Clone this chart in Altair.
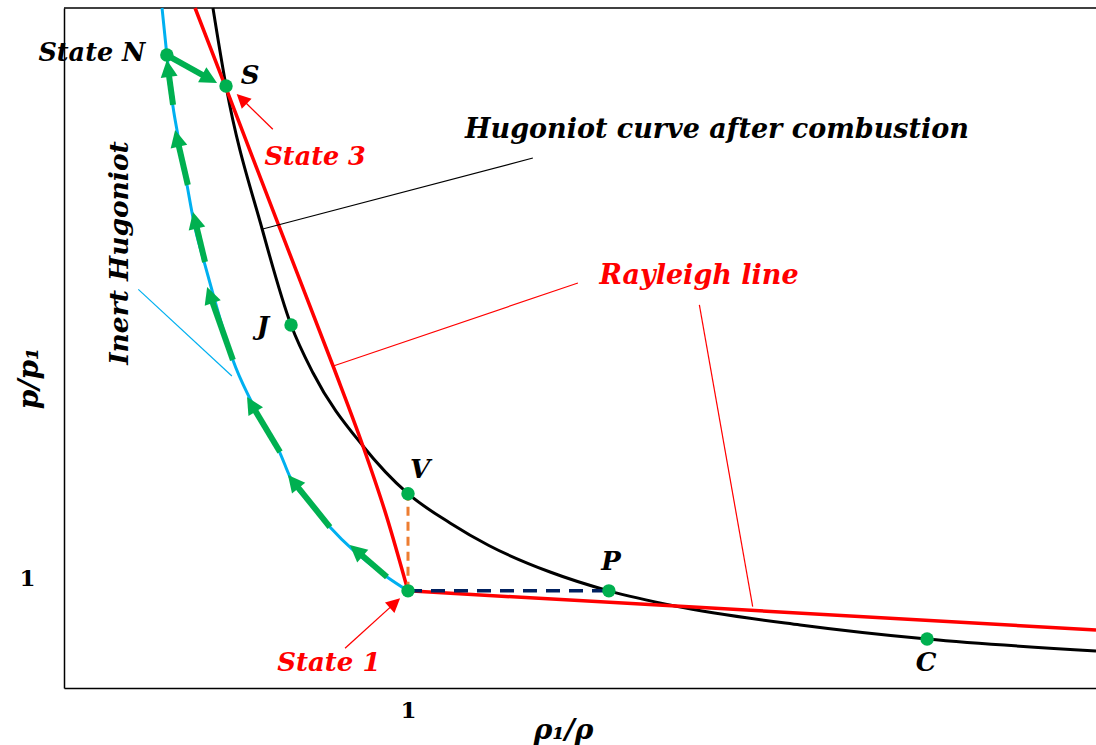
import math
import altair as alt
import pandas as pd

# ---------------- data (rho1/rho , p/p1) ----------------
# Hugoniot curve after combustion
hug_x = [0.433, 0.471, 0.576, 0.660, 0.724, 0.869, 1.000, 1.122, 1.235, 1.413, 1.584, 1.776,
         2.140, 2.509, 3.0]
hug_y = [7.0, 6.197, 4.725, 3.737, 3.243, 2.491, 2.0, 1.699, 1.467, 1.194, 1.0, 0.844,
         0.649, 0.504, 0.381]

# Rayleigh lines (strong branch and weak branch)
ray_up_x = [0.381, 0.473, 0.618, 0.783, 0.869, 0.938, 1.0]
ray_up_y = [7.0, 6.156, 4.818, 3.307, 2.491, 1.763, 1.0]
ray_lo_x = [1.0, 3.0]
ray_lo_y = [1.0, 0.597]

# Inert Hugoniot
inert_x = [0.285, 0.299, 0.317, 0.331, 0.355, 0.381, 0.410, 0.430, 0.459, 0.491, 0.538,
           0.584, 0.628, 0.657, 0.715, 0.773, 0.840, 0.890, 0.939, 1.0]
inert_y = [7.0, 6.516, 5.981, 5.693, 5.229, 4.735, 4.354, 4.097, 3.737, 3.376, 2.996,
           2.697, 2.419, 2.172, 1.904, 1.657, 1.421, 1.276, 1.143, 1.0]

# green path arrows (start -> tip)
garr_sx = [0.939, 0.773, 0.628, 0.491, 0.410, 0.360, 0.317, 0.299]
garr_sy = [1.143, 1.657, 2.429, 3.376, 4.385, 5.178, 6.002, 6.516]
garr_tx = [0.831, 0.651, 0.532, 0.416, 0.375, 0.323, 0.299, 0.445]
garr_ty = [1.472, 2.193, 2.996, 4.128, 4.900, 5.744, 6.465, 6.228]

# red pointer arrows (start -> tip)
rarr_sx = [0.607, 0.817]
rarr_sy = [5.751, 0.409]
rarr_tx = [0.502, 0.977]
rarr_ty = [6.115, 0.923]

# state points
pt_name = ["N", "S", "J", "V", "P", "C", "1"]
pt_x = [0.299, 0.471, 0.660, 1.0, 1.584, 2.509, 1.0]
pt_y = [6.516, 6.197, 3.737, 2.0, 1.0, 0.504, 1.0]

# leader lines
lead_x = [0.575, 0.783, 1.847, 0.216]
lead_y = [4.722, 3.315, 3.943, 4.104]
lead_x2 = [1.363, 1.494, 2.002, 0.488]
lead_y2 = [5.456, 4.169, 0.837, 3.212]
lead_col = ["#000000", "#FF0000", "#FF0000", "#00B0F0"]

# labels
lab_text = ["State N", "S", "State 3", "Hugoniot curve after combustion", "Rayleigh line",
            "Inert Hugoniot", "J", "V", "P", "C", "State 1"]
lab_x = [0.081, 0.541, 0.730, 1.898, 1.846, 0.163, 0.578, 1.035, 1.590, 2.506, 0.770]
lab_y = [6.537, 6.300, 5.466, 5.744, 4.241, 4.478, 3.716, 2.244, 1.297, 0.257, 0.257]
lab_col = ["#000000", "#000000", "#FF0000", "#000000", "#FF0000", "#000000",
           "#000000", "#000000", "#000000", "#000000", "#FF0000"]
lab_rot = [0, 0, 0, 0, 0, 270, 0, 0, 0, 0, 0]
lab_size = [25.5, 26, 25.5, 27, 27, 26.5, 26, 26, 26, 26, 26]

# ---------------- layout ----------------
W, H = 1032, 680
XMIN, XMAX, YMIN, YMAX = 0.0, 3.0, 0.0, 7.0
PX_X = W / (XMAX - XMIN)
PX_Y = H / (YMAX - YMIN)
FONT = "DejaVu Serif"
GREEN = "#00B050"
HEAD = "M0,0L-0.5,1L0.5,1Z"


def arrows(sx, sy, tx, ty, head_len):
    rows_l, rows_h = [], []
    for a, b, c, d in zip(sx, sy, tx, ty):
        dxp = (c - a) * PX_X
        dyp = -(d - b) * PX_Y
        L = math.hypot(dxp, dyp)
        ux, uy = dxp / L, dyp / L
        ang = math.degrees(math.atan2(ux, -uy)) % 360
        k = head_len * 0.75
        ex = c - k * ux / PX_X
        ey = d + k * uy / PX_Y
        rows_l.append({"x": a, "y": b, "x2": ex, "y2": ey})
        rows_h.append({"x": c, "y": d, "angle": ang})
    return pd.DataFrame(rows_l), pd.DataFrame(rows_h)


xs = alt.Scale(domain=[XMIN, XMAX], nice=False, zero=False)
ys = alt.Scale(domain=[YMIN, YMAX], nice=False, zero=False)
xaxis = alt.Axis(values=[1], labelExpr="'1'", ticks=False, grid=False, domain=True,
                 domainColor="black", domainWidth=1.5, labelFont=FONT, labelFontSize=23,
                 labelFontWeight="bold", labelColor="black", labelPadding=11,
                 title="ρ₁/ρ", titleFont=FONT, titleFontSize=28, titleFontWeight="bold",
                 titleFontStyle="italic", titleColor="black", titleX=499, titleY=42,
                 titleBaseline="middle", titleAlign="center")
yaxis = alt.Axis(values=[1], labelExpr="'1'", ticks=False, grid=False, domain=True,
                 domainColor="black", domainWidth=1.5, labelFont=FONT, labelFontSize=23,
                 labelFontWeight="bold", labelColor="black", labelPadding=29, labelOffset=-12,
                 title="p/p₁", titleFont=FONT, titleFontSize=28, titleFontWeight="bold",
                 titleFontStyle="italic", titleColor="black", titleX=-35, titleY=370,
                 titleAngle=270, titleBaseline="middle", titleAlign="center")


def X(f="x"):
    return alt.X(f, type="quantitative", scale=xs, axis=xaxis)


def Y(f="y"):
    return alt.Y(f, type="quantitative", scale=ys, axis=yaxis)


hug = pd.DataFrame({"x": hug_x, "y": hug_y})
ray_up = pd.DataFrame({"x": ray_up_x, "y": ray_up_y})
ray_lo = pd.DataFrame({"x": ray_lo_x, "y": ray_lo_y})
inert = pd.DataFrame({"x": inert_x, "y": inert_y})
g_lines, g_heads = arrows(garr_sx, garr_sy, garr_tx, garr_ty, 17)
r_lines, r_heads = arrows(rarr_sx, rarr_sy, rarr_tx, rarr_ty, 14)
pts = pd.DataFrame({"name": pt_name, "x": pt_x, "y": pt_y})
leads = pd.DataFrame({"x": lead_x, "y": lead_y, "x2": lead_x2, "y2": lead_y2, "c": lead_col})
labels = pd.DataFrame({"t": lab_text, "x": lab_x, "y": lab_y, "c": lab_col, "r": lab_rot,
                       "s": lab_size})
frame = pd.DataFrame({"x": [XMIN], "x2": [XMAX], "y": [YMAX]})
orange = pd.DataFrame({"x": [pt_x[6], pt_x[3]], "y": [pt_y[6], pt_y[3]]})
navy = pd.DataFrame({"x": [pt_x[6], pt_x[4]], "y": [pt_y[6], pt_y[4]]})

top = alt.Chart(frame).mark_rule(color="black", strokeWidth=1.5).encode(
    x=X(), x2="x2", y=Y())

inert_l = alt.Chart(inert).mark_line(color="#00B0F0", strokeWidth=3, interpolate="monotone").encode(
    x=X(), y=Y())
g_rule = alt.Chart(g_lines).mark_rule(color=GREEN, strokeWidth=6, strokeCap="butt").encode(
    x=X(), y=Y(), x2="x2", y2="y2")
g_head = alt.Chart(g_heads).mark_point(shape=HEAD, filled=True, opacity=1, color=GREEN,
                                       size=(2 * 17) ** 2, strokeWidth=0).encode(
    x=X(), y=Y(), angle=alt.Angle("angle:Q", scale=None))
hug_l = alt.Chart(hug).mark_line(color="black", strokeWidth=3, interpolate="monotone").encode(
    x=X(), y=Y())
ray_up_l = alt.Chart(ray_up).mark_line(color="#FF0000", strokeWidth=3.5, interpolate="monotone").encode(
    x=X(), y=Y())
ray_lo_l = alt.Chart(ray_lo).mark_line(color="#FF0000", strokeWidth=3.5).encode(
    x=X(), y=Y())
lead_l = alt.Chart(leads).mark_rule(strokeWidth=1.2).encode(
    x=X(), y=Y(), x2="x2", y2="y2", color=alt.Color("c:N", scale=None))
r_rule = alt.Chart(r_lines).mark_rule(color="#FF0000", strokeWidth=1.3).encode(
    x=X(), y=Y(), x2="x2", y2="y2")
r_head = alt.Chart(r_heads).mark_point(shape=HEAD, filled=True, opacity=1, color="#FF0000",
                                       size=(2 * 14) ** 2, strokeWidth=0).encode(
    x=X(), y=Y(), angle=alt.Angle("angle:Q", scale=None))
orange_l = alt.Chart(orange).mark_line(color="#ED7D31", strokeWidth=3, strokeDash=[9, 6]).encode(
    x=X(), y=Y(), order="y:Q")
navy_l = alt.Chart(navy).mark_line(color="#002060", strokeWidth=3.5, strokeDash=[14, 9]).encode(
    x=X(), y=Y())
dots = alt.Chart(pts).mark_point(shape="circle", filled=True, opacity=1, color=GREEN,
                                 size=180, strokeWidth=0).encode(x=X(), y=Y())
texts = alt.Chart(labels).mark_text(font=FONT, fontWeight="bold", fontStyle="italic",
                                    align="center", baseline="middle").encode(
    x=X(), y=Y(), text="t:N", color=alt.Color("c:N", scale=None),
    angle=alt.Angle("r:Q", scale=None), size=alt.Size("s:Q", scale=None))

chart = alt.layer(
    top, inert_l, g_rule, g_head, hug_l, ray_up_l, ray_lo_l, lead_l, orange_l, navy_l,
    r_rule, r_head, dots, texts
).properties(
    width=W, height=H, autosize="none",
    padding={"left": 64, "top": 8, "right": 0, "bottom": 57},
    background="white",
).configure_view(stroke=None)

chart.save("out.html", embed_options={"renderer": "svg", "actions": False})
